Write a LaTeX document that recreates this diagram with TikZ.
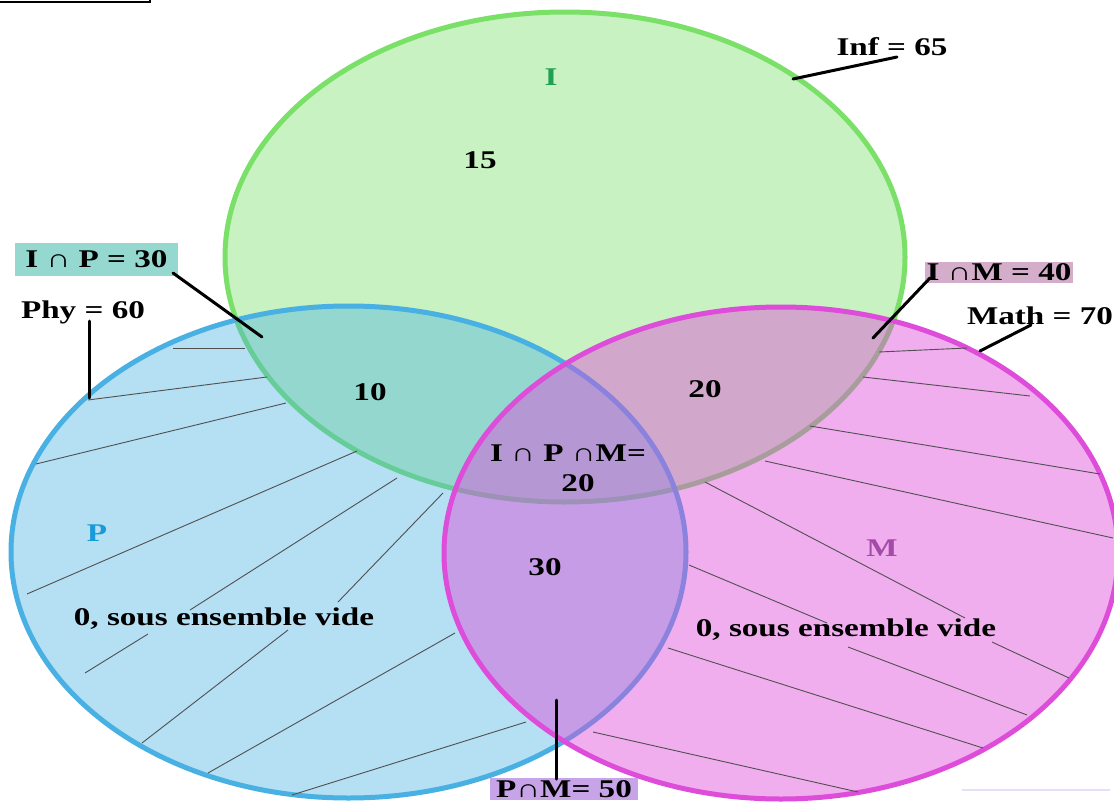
\documentclass[tikz,border=0pt]{standalone}
\usepackage{fontspec}
\setmainfont{Liberation Serif}[FakeStretch=1.3]
\usetikzlibrary{shapes.geometric}

\definecolor{ifill}{RGB}{200,242,194}
\definecolor{iline}{RGB}{122,224,104}
\definecolor{pcol}{RGB}{72,176,226}
\definecolor{mcol}{RGB}{222,76,218}
\definecolor{ipbox}{RGB}{148,216,207}
\definecolor{imbox}{RGB}{211,173,201}
\definecolor{pmbox}{RGB}{199,164,232}
\definecolor{hatchgray}{RGB}{80,80,80}
\definecolor{ilab}{RGB}{32,160,80}
\definecolor{plab}{RGB}{26,154,214}
\definecolor{mlab}{RGB}{163,75,168}
\definecolor{faint}{RGB}{232,222,248}

\begin{document}
\begin{tikzpicture}[x=1pt,y=-1pt,
  lab/.style={font=\fontsize{25.5}{27}\selectfont\bfseries, inner sep=0pt},
  tag/.style={lab, fill=#1, minimum height=22pt},
  setI/.style={ellipse, inner sep=0pt, fill=ifill, draw=iline, line width=5pt},
  setP/.style={ellipse, inner sep=0pt, fill=pcol, fill opacity=0.4, draw=pcol, draw opacity=1, line width=5pt},
  setM/.style={ellipse, inner sep=0pt, fill=mcol, fill opacity=0.45, draw=mcol, draw opacity=1, line width=5pt},
  leader/.style={line width=3pt, line cap=round},
  hatch/.style={draw=hatchgray, line width=0.9pt}]
\useasboundingbox (0,0) rectangle (1114,803);
\fill[white] (0,0) rectangle (1114,803);

% small frame in the corner
\draw[line width=1.3pt] (-5,-10) rectangle (150,2);

% the three sets
\node[setI, minimum width=680pt, minimum height=490pt] (I) at (565,257) {};
\node[setP, minimum width=675pt, minimum height=492pt] (P) at (348.5,552) {};
\node[setM, minimum width=674pt, minimum height=492pt] (M) at (781,553) {};

% hatching of the empty parts of P
\draw[hatch] (173,348) -- (245,348);
\draw[hatch] (88,400) -- (267,377);
\draw[hatch] (36,464) -- (286,403);
\draw[hatch] (27,594) -- (357,451);
\draw[hatch] (190,610) -- (397,478);
\draw[hatch] (85,673) -- (148,634);
\draw[hatch] (338,602) -- (443,493);
\draw[hatch] (142,743) -- (288,630);
\draw[hatch] (208,773) -- (455,633);
\draw[hatch] (292,795) -- (526,722);

% hatching of the empty parts of M
\draw[hatch] (879,352) -- (967,348);
\draw[hatch] (863,377) -- (1030,396);
\draw[hatch] (810,426) -- (1100,474);
\draw[hatch] (765,461) -- (1113,538);
\draw[hatch] (705,482) -- (965,618);
\draw[hatch] (992,642) -- (1069,678);
\draw[hatch] (689,565) -- (827,623);
\draw[hatch] (848,647) -- (1027,715);
\draw[hatch] (668,648) -- (983,748);
\draw[hatch] (593,732) -- (858,792);
\draw[faint, line width=1.5pt] (962,790) -- (1110,790);

% set names and counts
\node[lab, text=ilab] (nI) at (551,77) {I};
\node[lab, text=plab] (nP) at (97,533) {P};
\node[lab, text=mlab] (nM) at (882,548) {M};
\node[lab] (cI) at (480,160) {15};
\node[lab] (cIP) at (370,392) {10};
\node[lab] (cIM) at (705,389) {20};
\node[lab] (cIPM1) at (568,453) {I ∩ P ∩M=};
\node[lab] (cIPM2) at (578,483) {20};
\node[lab] (cPM) at (545,567) {30};
\node[lab] (eP) at (224,619) {0, sous ensemble vide};
\node[lab] (eM) at (846,630) {0, sous ensemble vide};

% totals and intersections with their leaders
\node[lab] (inf) at (892,47) {Inf = 65};
\node[lab] (phy) at (83,312) {Phy = 60};
\node[lab] (math) at (1040,316) {Math = 70};
\node[tag=ipbox, minimum width=163pt, minimum height=33pt] (ip) at (96.5,259.5) {I ∩ P = 30};
\node[tag=imbox, minimum width=148pt, minimum height=21pt] (im) at (999,272.5) {I ∩M = 40};
\node[tag=pmbox, minimum width=148pt, minimum height=22pt] (pm) at (564,789) {P∩M= 50};

\coordinate (infA) at (793,79);  \coordinate (infB) at (897,57);
\coordinate (ipA) at (173,273);  \coordinate (ipB) at (262,337);
\coordinate (phyA) at (89,321);  \coordinate (phyB) at (89,398);
\coordinate (imA) at (930,278);  \coordinate (imB) at (873,338);
\coordinate (mathA) at (1031,325); \coordinate (mathB) at (980,351);
\coordinate (pmA) at (556,779);  \coordinate (pmB) at (556,700);

\draw[leader] (infA) -- (infB);
\draw[leader] (ipA) -- (ipB);
\draw[leader] (phyA) -- (phyB);
\draw[leader] (imA) -- (imB);
\draw[leader] (mathA) -- (mathB);
\draw[leader] (pmA) -- (pmB);
\end{tikzpicture}
\end{document}
